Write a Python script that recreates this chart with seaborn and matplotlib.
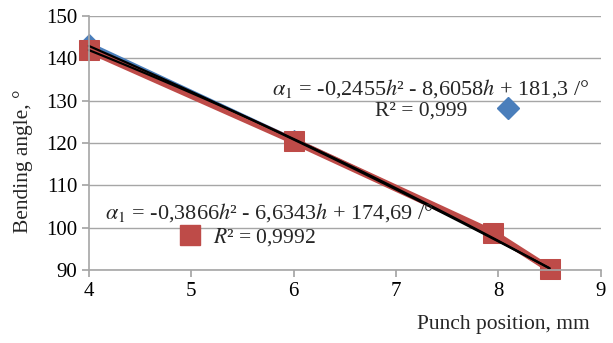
import numpy as np
import pandas as pd
import matplotlib
matplotlib.use('Agg')
import matplotlib.pyplot as plt
import seaborn as sns
from matplotlib.lines import Line2D

# data
pos_blue = [4, 6, 7.95, 8.5]
angle_blue = [143.6, 121.0, 98.9, 90.5]
pos_red = [4, 6, 7.95, 8.5]
angle_red = [142.0, 120.5, 98.7, 90.2]

# polynomial trendline coefficients (a, b, c)
fit_blue = [-0.2455, -8.6058, 181.3]
fit_red = [-0.3866, -6.6343, 174.69]

eq_blue = r'$\alpha_1$ = -0,2455$h$² - 8,6058$h$ + 181,3 /°'
eq_red = r'$\alpha_1$ = -0,3866$h$² - 6,6343$h$ + 174,69 /°'
r2_blue = 'R² = 0,999'
r2_red = r'$R$² = 0,9992'

blue = '#4a7ebb'
red = '#be4b48'

sns.set_theme(style='white')
plt.rcParams['font.family'] = ['Liberation Serif', 'DejaVu Serif']
plt.rcParams['mathtext.fontset'] = 'stix'

df_b = pd.DataFrame({'pos': pos_blue, 'angle': angle_blue})
df_r = pd.DataFrame({'pos': pos_red, 'angle': angle_red})

fig = plt.figure(figsize=(6.13, 3.43), dpi=100)
ax = fig.add_axes([0.145, 0.213, 0.835, 0.74])

sns.lineplot(data=df_b, x='pos', y='angle', ax=ax, color=blue, lw=2,
             marker='D', markersize=9, markeredgecolor=blue, clip_on=False)
sns.lineplot(data=df_r, x='pos', y='angle', ax=ax, color=red, lw=5,
             marker='s', markersize=15, markeredgecolor=red, clip_on=False)

h = np.linspace(4, 8.5, 100)
ax.plot(h, np.polyval(fit_blue, h), color='black', lw=1.6, clip_on=False)
ax.plot(h, np.polyval(fit_red, h), color='black', lw=1.6, clip_on=False)

ax.set_xlim(4, 9)
ax.set_ylim(90, 150)
ax.set_xticks(range(4, 10))
ax.set_yticks(range(90, 151, 10))
ax.yaxis.grid(True, color='#a6a6a6', lw=1)
ax.set_axisbelow(True)
for s in ['top', 'right']:
    ax.spines[s].set_visible(False)
for s in ['left', 'bottom']:
    ax.spines[s].set_color('#a6a6a6')
    ax.spines[s].set_linewidth(1.2)
ax.tick_params(axis='both', direction='out', length=5, color='#a6a6a6',
               labelsize=15, labelcolor='black', bottom=True, left=True)

ax.set_xlabel('Punch position, mm', fontsize=15.5)
ax.set_ylabel('Bending angle, °', fontsize=15.5)
ax.xaxis.set_label_coords(0.81, -0.215)
ax.yaxis.set_label_coords(-0.128, 0.43)
ax.xaxis.label.set_va('center')
ax.yaxis.label.set_va('center')

ax.text(0.357, 0.715, eq_blue, transform=ax.transAxes, fontsize=16, va='center')
ax.text(0.031, 0.228, eq_red, transform=ax.transAxes, fontsize=16, va='center')

h_b = Line2D([], [], color=blue, marker='D', linestyle='none', markersize=11)
h_r = Line2D([], [], color=red, marker='s', linestyle='none', markersize=14)
leg1 = ax.legend([h_b], [r2_blue], loc='center', bbox_to_anchor=(0.70, 0.63),
                 frameon=False, fontsize=15.5, markerfirst=False, handletextpad=1.4,
                 handlelength=1)
ax.add_artist(leg1)
ax.legend([h_r], [r2_red], loc='center', bbox_to_anchor=(0.31, 0.13),
          frameon=False, fontsize=15.5, handletextpad=0.6, handlelength=1)

fig.savefig('out.png', dpi=100)
